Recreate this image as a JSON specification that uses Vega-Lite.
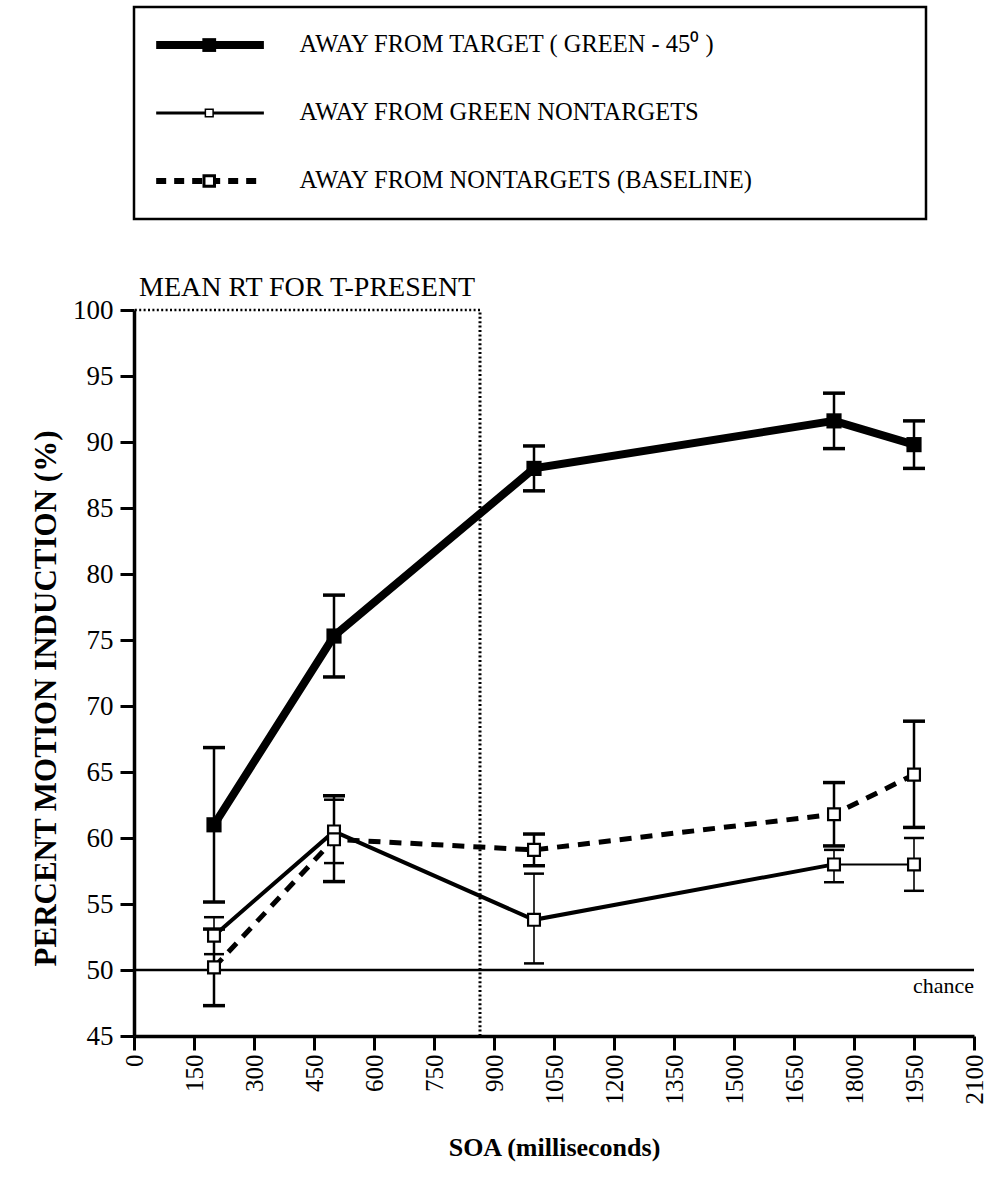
{
  "$schema": "https://vega.github.io/schema/vega-lite/v6.json",
  "padding": {"top": 5, "left": 30, "right": 5, "bottom": 5},
  "spacing": 53,
  "background": "white",
  "config": {
    "font": "Liberation Serif",
    "view": {"stroke": null},
    "axis": {
      "domainColor": "black",
      "domainWidth": 3.5,
      "tickColor": "black",
      "tickWidth": 3,
      "tickSize": 14,
      "labelColor": "black",
      "labelFont": "Liberation Serif",
      "labelFontSize": 25,
      "labelPadding": 4,
      "titleFont": "Liberation Serif",
      "titleColor": "black",
      "titleFontWeight": "bold",
      "grid": false
    }
  },
  "datasets": {
    "induction": [
      {"series": "target", "soa": 200, "pct": 61.0, "lo": 55.15, "hi": 66.85},
      {"series": "target", "soa": 500, "pct": 75.3, "lo": 72.2, "hi": 78.4},
      {"series": "target", "soa": 1000, "pct": 88.0, "lo": 86.3, "hi": 89.7},
      {"series": "target", "soa": 1750, "pct": 91.6, "lo": 89.5, "hi": 93.7},
      {"series": "target", "soa": 1950, "pct": 89.8, "lo": 88.0, "hi": 91.6},
      {"series": "green", "soa": 200, "pct": 52.6, "lo": 51.2, "hi": 54.0},
      {"series": "green", "soa": 500, "pct": 60.5, "lo": 58.1, "hi": 62.9},
      {"series": "green", "soa": 1000, "pct": 53.8, "lo": 50.5, "hi": 57.3},
      {"series": "green", "soa": 1750, "pct": 58.0, "lo": 56.65, "hi": 59.1},
      {"series": "green", "soa": 1950, "pct": 58.0, "lo": 56.0, "hi": 60.0},
      {"series": "baseline", "soa": 200, "pct": 50.2, "lo": 47.3, "hi": 53.1},
      {"series": "baseline", "soa": 500, "pct": 59.9, "lo": 56.7, "hi": 63.2},
      {"series": "baseline", "soa": 1000, "pct": 59.1, "lo": 57.9, "hi": 60.3},
      {"series": "baseline", "soa": 1750, "pct": 61.8, "lo": 59.4, "hi": 64.2},
      {"series": "baseline", "soa": 1950, "pct": 64.8, "lo": 60.8, "hi": 68.85}
    ],
    "key": [
      {"series": "target", "label": "AWAY FROM TARGET ( GREEN  - 45⁰ )"},
      {"series": "green", "label": "AWAY FROM GREEN  NONTARGETS"},
      {"series": "baseline", "label": "AWAY FROM NONTARGETS  (BASELINE)"}
    ],
    "reference": [{"meanRT": 865}]
  },
  "resolve": {"scale": {"x": "independent", "y": "independent"}},
  "vconcat": [
    {
      "width": 792,
      "height": 212,
      "view": {"stroke": "black", "strokeWidth": 2.5},
      "data": {"name": "key"},
      "layer": [
        {
          "transform": [{"filter": "datum.series === 'target'"}],
          "mark": {"type": "rule", "color": "black", "strokeWidth": 8},
          "encoding": {
            "x": {"datum": 0.028, "type": "quantitative", "scale": {"domain": [0, 1]}, "axis": null},
            "x2": {"datum": 0.164},
            "y": {
              "field": "series", "type": "nominal", "axis": null,
              "scale": {"type": "point", "domain": ["target", "green", "baseline"], "padding": 0.56}
            }
          }
        },
        {
          "transform": [{"filter": "datum.series === 'green'"}],
          "mark": {"type": "rule", "color": "black", "strokeWidth": 3},
          "encoding": {
            "x": {"datum": 0.028, "type": "quantitative"},
            "x2": {"datum": 0.164},
            "y": {"field": "series", "type": "nominal"}
          }
        },
        {
          "transform": [{"filter": "datum.series === 'baseline'"}],
          "mark": {"type": "rule", "color": "black", "strokeWidth": 6, "strokeDash": [10, 8]},
          "encoding": {
            "x": {"datum": 0.028, "type": "quantitative"},
            "x2": {"datum": 0.164},
            "y": {"field": "series", "type": "nominal"}
          }
        },
        {
          "transform": [{"filter": "datum.series === 'target'"}],
          "mark": {"type": "point", "shape": "square", "filled": true, "color": "black", "size": 190, "opacity": 1},
          "encoding": {
            "x": {"datum": 0.095, "type": "quantitative"},
            "y": {"field": "series", "type": "nominal"}
          }
        },
        {
          "transform": [{"filter": "datum.series === 'green'"}],
          "mark": {"type": "point", "shape": "square", "fill": "white", "stroke": "black", "strokeWidth": 1.5, "size": 60, "opacity": 1},
          "encoding": {
            "x": {"datum": 0.095, "type": "quantitative"},
            "y": {"field": "series", "type": "nominal"}
          }
        },
        {
          "transform": [{"filter": "datum.series === 'baseline'"}],
          "mark": {"type": "point", "shape": "square", "fill": "white", "stroke": "black", "strokeWidth": 3, "size": 110, "opacity": 1},
          "encoding": {
            "x": {"datum": 0.095, "type": "quantitative"},
            "y": {"field": "series", "type": "nominal"}
          }
        },
        {
          "mark": {"type": "text", "align": "left", "baseline": "middle", "fontSize": 24.5, "color": "black"},
          "encoding": {
            "x": {"datum": 0.209, "type": "quantitative"},
            "y": {"field": "series", "type": "nominal"},
            "text": {"field": "label", "type": "nominal"}
          }
        }
      ]
    },
    {
      "width": 840,
      "height": 726,
      "layer": [
        {
          "data": {"name": "reference"},
          "mark": {"type": "rule", "color": "black", "strokeWidth": 2.5, "strokeDash": [2, 2.4]},
          "encoding": {
            "x": {
              "field": "meanRT", "type": "quantitative",
              "scale": {"domain": [0, 2100], "nice": false, "zero": false},
              "axis": {
                "title": "SOA   (milliseconds)",
                "values": [0, 150, 300, 450, 600, 750, 900, 1050, 1200, 1350, 1500, 1650, 1800, 1950, 2100],
                "format": "d",
                "labelAngle": -90,
                "labelFontSize": 25,
                "titleFontSize": 26,
                "titlePadding": 30
              }
            },
            "x2": {"datum": 0},
            "y": {
              "datum": 100, "type": "quantitative",
              "scale": {"domain": [45, 100], "nice": false, "zero": false},
              "axis": {
                "title": "PERCENT  MOTION  INDUCTION  (%)",
                "values": [45, 50, 55, 60, 65, 70, 75, 80, 85, 90, 95, 100],
                "labelFontSize": 27,
                "labelPadding": 7,
                "titleFontSize": 31,
                "titlePadding": 10,
                "titleY": 388
              }
            }
          }
        },
        {
          "data": {"name": "reference"},
          "mark": {"type": "rule", "color": "black", "strokeWidth": 3, "strokeDash": [2, 2.4]},
          "encoding": {
            "x": {"field": "meanRT", "type": "quantitative", "title": "SOA   (milliseconds)"},
            "y": {"datum": 45, "type": "quantitative"},
            "y2": {"datum": 100}
          }
        },
        {
          "data": {"name": "reference"},
          "mark": {"type": "rule", "color": "black", "strokeWidth": 2.5},
          "encoding": {
            "x": {"datum": 0, "type": "quantitative"},
            "x2": {"datum": 2100},
            "y": {"datum": 50, "type": "quantitative"}
          }
        },
        {
          "data": {"name": "reference"},
          "mark": {"type": "text", "text": "chance", "align": "right", "baseline": "top", "dy": 6, "fontSize": 22, "color": "black"},
          "encoding": {
            "x": {"datum": 2100, "type": "quantitative"},
            "y": {"datum": 50, "type": "quantitative"}
          }
        },
        {
          "data": {"name": "reference"},
          "mark": {"type": "text", "text": "MEAN RT FOR T-PRESENT", "align": "left", "baseline": "alphabetic", "dx": 5, "dy": -14, "fontSize": 28, "color": "black"},
          "encoding": {
            "x": {"datum": 0, "type": "quantitative"},
            "y": {"datum": 100, "type": "quantitative"}
          }
        },
        {
          "data": {"name": "induction"},
          "transform": [{"filter": "datum.series !== 'green'"}],
          "mark": {"type": "rule", "color": "black", "strokeWidth": 2.5},
          "encoding": {
            "x": {"field": "soa", "type": "quantitative", "title": "SOA   (milliseconds)"},
            "y": {"field": "lo", "type": "quantitative", "title": "PERCENT  MOTION  INDUCTION  (%)"},
            "y2": {"field": "hi"}
          }
        },
        {
          "data": {"name": "induction"},
          "transform": [{"filter": "datum.series === 'green'"}],
          "mark": {"type": "rule", "color": "black", "strokeWidth": 1.6},
          "encoding": {
            "x": {"field": "soa", "type": "quantitative", "title": "SOA   (milliseconds)"},
            "y": {"field": "lo", "type": "quantitative", "title": "PERCENT  MOTION  INDUCTION  (%)"},
            "y2": {"field": "hi"}
          }
        },
        {
          "data": {"name": "induction"},
          "transform": [{"filter": "datum.series !== 'green'"}],
          "mark": {"type": "tick", "orient": "horizontal", "color": "black", "size": 22, "thickness": 3.5, "opacity": 1},
          "encoding": {
            "x": {"field": "soa", "type": "quantitative", "title": "SOA   (milliseconds)"},
            "y": {"field": "lo", "type": "quantitative", "title": "PERCENT  MOTION  INDUCTION  (%)"}
          }
        },
        {
          "data": {"name": "induction"},
          "transform": [{"filter": "datum.series !== 'green'"}],
          "mark": {"type": "tick", "orient": "horizontal", "color": "black", "size": 22, "thickness": 3.5, "opacity": 1},
          "encoding": {
            "x": {"field": "soa", "type": "quantitative", "title": "SOA   (milliseconds)"},
            "y": {"field": "hi", "type": "quantitative", "title": "PERCENT  MOTION  INDUCTION  (%)"}
          }
        },
        {
          "data": {"name": "induction"},
          "transform": [{"filter": "datum.series === 'green'"}],
          "mark": {"type": "tick", "orient": "horizontal", "color": "black", "size": 20, "thickness": 2.5, "opacity": 1},
          "encoding": {
            "x": {"field": "soa", "type": "quantitative", "title": "SOA   (milliseconds)"},
            "y": {"field": "lo", "type": "quantitative", "title": "PERCENT  MOTION  INDUCTION  (%)"}
          }
        },
        {
          "data": {"name": "induction"},
          "transform": [{"filter": "datum.series === 'green'"}],
          "mark": {"type": "tick", "orient": "horizontal", "color": "black", "size": 20, "thickness": 2.5, "opacity": 1},
          "encoding": {
            "x": {"field": "soa", "type": "quantitative", "title": "SOA   (milliseconds)"},
            "y": {"field": "hi", "type": "quantitative", "title": "PERCENT  MOTION  INDUCTION  (%)"}
          }
        },
        {
          "data": {"name": "induction"},
          "transform": [{"filter": "datum.series === 'baseline'"}],
          "mark": {"type": "line", "color": "black", "strokeWidth": 5, "strokeDash": [12, 9]},
          "encoding": {
            "x": {"field": "soa", "type": "quantitative", "title": "SOA   (milliseconds)"},
            "y": {"field": "pct", "type": "quantitative", "title": "PERCENT  MOTION  INDUCTION  (%)"}
          }
        },
        {
          "data": {"name": "induction"},
          "transform": [{"filter": "datum.series === 'green' && datum.soa <= 1750"}],
          "mark": {"type": "line", "color": "black", "strokeWidth": 4},
          "encoding": {
            "x": {"field": "soa", "type": "quantitative", "title": "SOA   (milliseconds)"},
            "y": {"field": "pct", "type": "quantitative", "title": "PERCENT  MOTION  INDUCTION  (%)"}
          }
        },
        {
          "data": {"name": "induction"},
          "transform": [{"filter": "datum.series === 'green' && datum.soa >= 1750"}],
          "mark": {"type": "line", "color": "black", "strokeWidth": 2},
          "encoding": {
            "x": {"field": "soa", "type": "quantitative", "title": "SOA   (milliseconds)"},
            "y": {"field": "pct", "type": "quantitative", "title": "PERCENT  MOTION  INDUCTION  (%)"}
          }
        },
        {
          "data": {"name": "induction"},
          "transform": [{"filter": "datum.series === 'target'"}],
          "mark": {"type": "line", "color": "black", "strokeWidth": 8},
          "encoding": {
            "x": {"field": "soa", "type": "quantitative", "title": "SOA   (milliseconds)"},
            "y": {"field": "pct", "type": "quantitative", "title": "PERCENT  MOTION  INDUCTION  (%)"}
          }
        },
        {
          "data": {"name": "induction"},
          "transform": [{"filter": "datum.series !== 'target'"}],
          "mark": {"type": "point", "shape": "square", "fill": "white", "stroke": "black", "strokeWidth": 2.2, "size": 140, "opacity": 1},
          "encoding": {
            "x": {"field": "soa", "type": "quantitative", "title": "SOA   (milliseconds)"},
            "y": {"field": "pct", "type": "quantitative", "title": "PERCENT  MOTION  INDUCTION  (%)"}
          }
        },
        {
          "data": {"name": "induction"},
          "transform": [{"filter": "datum.series === 'target'"}],
          "mark": {"type": "point", "shape": "square", "filled": true, "color": "black", "size": 230, "opacity": 1},
          "encoding": {
            "x": {"field": "soa", "type": "quantitative", "title": "SOA   (milliseconds)"},
            "y": {"field": "pct", "type": "quantitative", "title": "PERCENT  MOTION  INDUCTION  (%)"}
          }
        }
      ]
    }
  ]
}
